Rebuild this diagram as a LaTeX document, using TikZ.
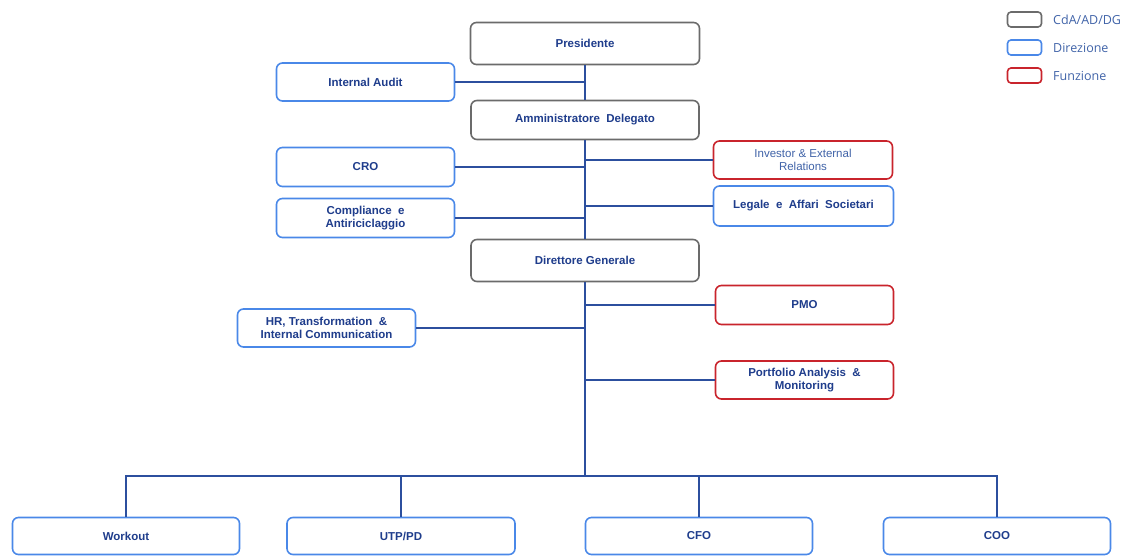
\documentclass[tikz,border=0pt]{standalone}
\usepackage{fontspec}
\setmainfont{Liberation Sans}
\newfontfamily\legfont{Open Sans}
\definecolor{boxgrey}{HTML}{6B6B6B}
\definecolor{boxblue}{HTML}{4A88E8}
\definecolor{boxred}{HTML}{C9242C}
\definecolor{txtnavy}{HTML}{1F3D8C}
\definecolor{txtlight}{HTML}{4063A8}
\definecolor{linenavy}{HTML}{2C4F9E}
\tikzset{
  obox/.style={draw, rounded corners=6pt, line width=1.6pt, fill=white, align=center,
    inner sep=0pt, text=txtnavy, font=\fontsize{11.5}{13}\selectfont\bfseries},
  cda/.style={obox, draw=boxgrey},
  dir/.style={obox, draw=boxblue},
  fun/.style={obox, draw=boxred},
  conn/.style={draw=linenavy, line width=1.5pt},
  legbox/.style={draw, rounded corners=3.5pt, line width=1.6pt, minimum width=34pt, minimum height=15pt, inner sep=0pt},
  legtxt/.style={anchor=west, text=txtlight, font=\legfont\fontsize{12.5}{14}\selectfont, inner sep=0pt}
}
\begin{document}
\begin{tikzpicture}[x=1pt,y=-1pt]
\useasboundingbox (0,0) rectangle (1135,556);
% nodes
\node[cda, minimum width=229pt, minimum height=42pt] (pres) at (585,43.5) {Presidente};
\node[dir, minimum width=178pt, minimum height=38pt] (ia) at (365.5,82) {Internal Audit};
\node[cda, minimum width=228pt, minimum height=39pt] (ad) at (585,120) {Amministratore\ \ Delegato};
\node[dir, minimum width=178pt, minimum height=39pt] (cro) at (365.5,167) {CRO};
\node[dir, minimum width=178pt, minimum height=39pt] (comp) at (365.5,218) {Compliance\ \ e\\Antiriciclaggio};
\node[fun, minimum width=179pt, minimum height=38pt, text=txtlight, font=\fontsize{11.5}{13}\selectfont] (inv) at (803,160) {Investor \& External\\Relations};
\node[dir, minimum width=180pt, minimum height=40pt] (leg) at (803.5,206) {Legale\ \ e\ \ Affari\ \ Societari};
\node[cda, minimum width=228pt, minimum height=42pt] (dg) at (585,260.5) {Direttore Generale};
\node[fun, minimum width=178pt, minimum height=39pt] (pmo) at (804.5,305) {PMO};
\node[dir, minimum width=178pt, minimum height=38pt] (hr) at (326.5,328) {HR, Transformation\ \ \&\\Internal Communication};
\node[fun, minimum width=178pt, minimum height=38pt] (port) at (804.5,380) {Portfolio Analysis\ \ \&\\Monitoring};
\node[dir, minimum width=227pt, minimum height=37pt] (wo) at (126,536) {Workout};
\node[dir, minimum width=228pt, minimum height=37pt] (utp) at (401,536) {UTP/PD};
\node[dir, minimum width=227pt, minimum height=37pt] (cfo) at (699,536) {CFO};
\node[dir, minimum width=227pt, minimum height=37pt] (coo) at (997,536) {COO};
\coordinate (bus) at (585,476);
% connectors
\draw[conn] (pres.south) -- (ad.north);
\draw[conn] (ia.east) -- (ia.east -| pres.south);
\draw[conn] (ad.south) -- (dg.north);
\draw[conn] (cro.east) -- (cro.east -| ad.south);
\draw[conn] (comp.east) -- (comp.east -| ad.south);
\draw[conn] (inv.west) -- (inv.west -| ad.south);
\draw[conn] (leg.west) -- (leg.west -| ad.south);
\draw[conn] (dg.south) -- (bus);
\draw[conn] (pmo.west) -- (pmo.west -| dg.south);
\draw[conn] (hr.east) -- (hr.east -| dg.south);
\draw[conn] (port.west) -- (port.west -| dg.south);
\draw[conn] (wo.north) |- (bus) -| (coo.north);
\draw[conn] (utp.north) -- (utp.north |- bus);
\draw[conn] (cfo.north) -- (cfo.north |- bus);
% legend
\node[legbox, draw=boxgrey] (lg1) at (1024.5,19.5) {};
\node[legbox, draw=boxblue] (lg2) at (1024.5,47.5) {};
\node[legbox, draw=boxred] (lg3) at (1024.5,75.5) {};
\node[legtxt] (lt1) at (1053,19.5) {CdA/AD/DG};
\node[legtxt] (lt2) at (1053,47.5) {Direzione};
\node[legtxt] (lt3) at (1053,75.5) {Funzione};
\end{tikzpicture}
\end{document}
